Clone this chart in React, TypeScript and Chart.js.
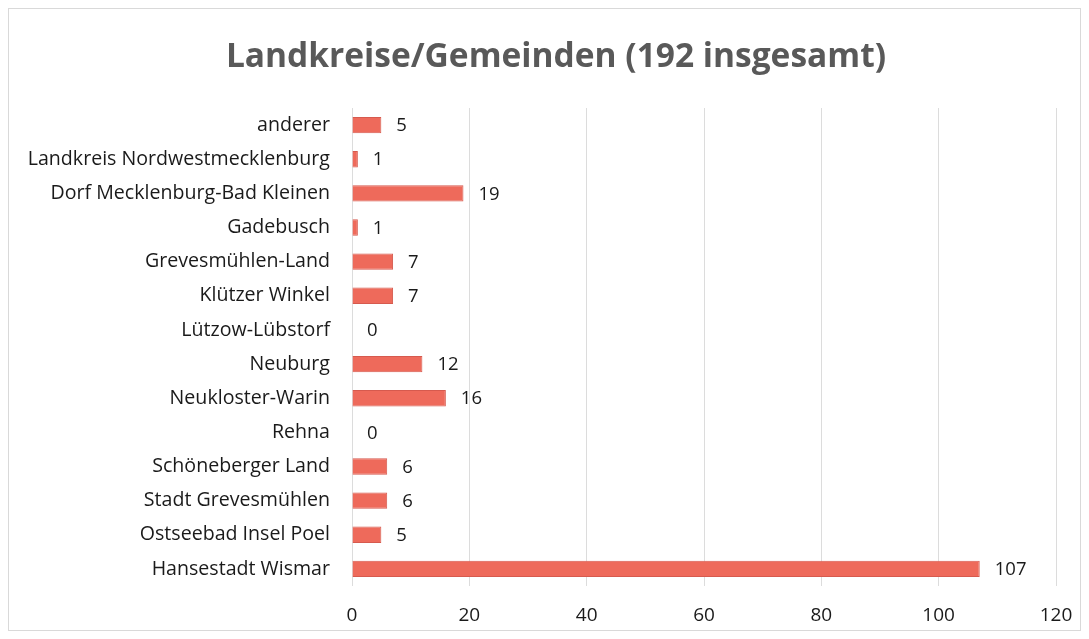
import React, { useEffect, useRef } from "react";
import { Chart, registerables } from "chart.js";

Chart.register(...registerables);

const categories = [
  "anderer",
  "Landkreis Nordwestmecklenburg",
  "Dorf Mecklenburg-Bad Kleinen",
  "Gadebusch",
  "Grevesmühlen-Land",
  "Klützer Winkel",
  "Lützow-Lübstorf",
  "Neuburg",
  "Neukloster-Warin",
  "Rehna",
  "Schöneberger Land",
  "Stadt Grevesmühlen",
  "Ostseebad Insel Poel",
  "Hansestadt Wismar",
];
const values = [5, 1, 19, 1, 7, 7, 0, 12, 16, 0, 6, 6, 5, 107];
const titleText = "Landkreise/Gemeinden (192 insgesamt)";
const xMin = 0;
const xMax = 120;
const xStep = 20;

const FONT = "'Open Sans', 'DejaVu Sans', sans-serif";

const valueLabels = {
  id: "valueLabels",
  afterDatasetsDraw(chart: any) {
    const ctx = chart.ctx;
    const meta = chart.getDatasetMeta(0);
    const ds = chart.data.datasets[0];
    ctx.save();
    ctx.font = `18.5px ${FONT}`;
    ctx.fillStyle = "#1a1a1a";
    ctx.textAlign = "left";
    ctx.textBaseline = "middle";
    meta.data.forEach((bar: any, i: number) => {
      ctx.fillText(String(ds.data[i]), bar.x + 15, bar.y + 1);
    });
    ctx.restore();
  },
};

const customTitle = {
  id: "customTitle",
  afterDraw(chart: any) {
    const ctx = chart.ctx;
    ctx.save();
    ctx.font = `bold 33.5px ${FONT}`;
    ctx.fillStyle = "#595959";
    ctx.textAlign = "center";
    ctx.textBaseline = "alphabetic";
    ctx.fillText(titleText, 547, 58);
    ctx.restore();
  },
};

export default function App() {
  const ref = useRef<HTMLCanvasElement | null>(null);
  useEffect(() => {
    if (!ref.current) return;
    const chart = new Chart(ref.current, {
      type: "bar",
      data: {
        labels: categories,
        datasets: [
          {
            data: values,
            backgroundColor: "#ee6a5b",
            borderColor: "#d65a4e",
            borderWidth: 1,
            barPercentage: 0.48,
            categoryPercentage: 1,
          },
        ],
      },
      options: {
        indexAxis: "y",
        animation: false,
        responsive: true,
        maintainAspectRatio: false,
        layout: { padding: { left: 0, right: 24, top: 99, bottom: 0 } },
        plugins: {
          legend: { display: false },
          tooltip: { enabled: false },
          title: { display: false },
        },
        scales: {
          x: {
            min: xMin,
            max: xMax,
            ticks: {
              stepSize: xStep,
              color: "#1a1a1a",
              font: { family: FONT, size: 19 },
              padding: 18,
            },
            grid: { color: "#dcdcdc", drawTicks: false },
            border: { display: false },
            afterFit: (s: any) => {
              s.height = 44;
              s.paddingLeft = 0;
              s.paddingRight = 0;
            },
          },
          y: {
            ticks: {
              color: "#1a1a1a",
              font: { family: FONT, size: 19.6 },
              padding: 22,
            },
            grid: { display: false, drawTicks: false },
            border: { display: false },
            afterFit: (s: any) => {
              s.width = 343;
            },
          },
        },
      },
      plugins: [valueLabels, customTitle],
    });
    return () => chart.destroy();
  }, []);
  return (
    <div
      style={{
        width: 1073,
        height: 623,
        boxSizing: "border-box",
        border: "1px solid #d9d9d9",
        background: "#fff",
      }}
    >
      <canvas ref={ref} />
    </div>
  );
}
